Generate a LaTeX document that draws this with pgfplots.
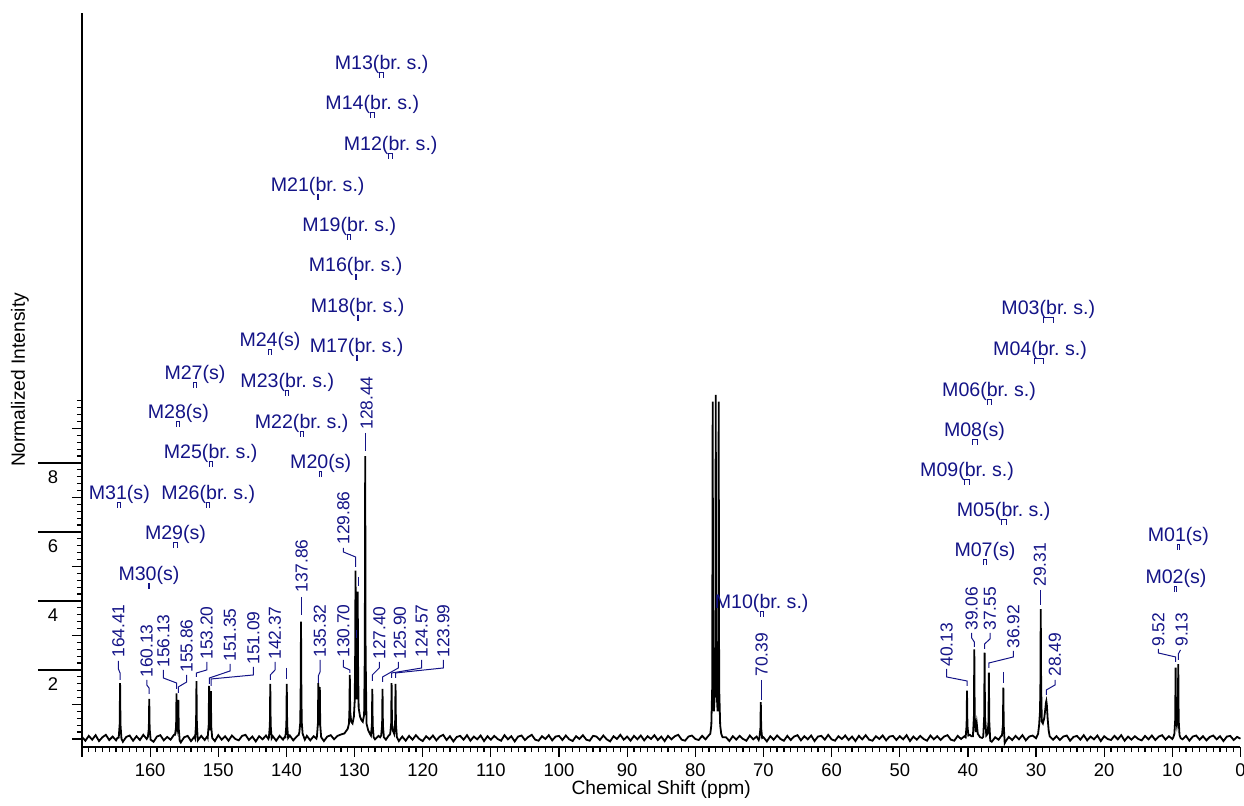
\documentclass[border=0pt]{standalone}
\usepackage{fontspec}
\setmainfont{Liberation Sans}
\usepackage{pgfplots}
\pgfplotsset{compat=1.18}
\definecolor{lblue}{RGB}{20,20,135}
\pgfplotsset{
  px/.style={x filter/.expression={(1240.5-x)/6.815}, y filter/.expression={(739-y)/34.5}},
  cn/.style={px, lblue, line width=0.5pt, no markers, forget plot},
}
\begin{document}
\begin{tikzpicture}[font=\fontsize{9.8pt}{11pt}\selectfont]
\useasboundingbox (-41pt,-29.5pt) rectangle (581pt,373.5pt);
\begin{axis}[
  at={(0,0)}, anchor=south west,
  width=579.25pt, height=367pt, scale only axis,
  xmin=0, xmax=170, x dir=reverse,
  ymin=-0.232, ymax=21.04,
  axis x line=bottom, axis y line=left,
  axis line style={-, line width=0.7pt},
  tick align=outside,
  major tick length=2.6pt, minor tick length=5pt,
  xtick={0,1,...,170}, xticklabels={},
  extra x ticks={0,10,...,170},
  extra x tick labels={0,10,20,30,40,50,60,70,80,90,100,110,120,130,140,150,160,{}},
  extra x tick style={major tick length=5pt},
  ytick={0,0.2,...,9.81}, yticklabels={},
  minor ytick={0,1,3,5,7,9},
  extra y ticks={2,4,6,8},
  extra y tick style={major tick length=22pt, yticklabel style={anchor=north, inner sep=0pt, xshift=7.5pt, yshift=-3.5pt}},
  tick style={black, line width=0.6pt},
  tick label style={font=\fontsize{9.2pt}{11pt}\selectfont},
  label style={font=\fontsize{9.6pt}{11pt}\selectfont},
  /pgf/number format/assume math mode=true,
  xlabel={Chemical Shift (ppm)}, ylabel={Normalized Intensity},
  xlabel style={at={(axis description cs:0.5,-0.0586)}, anchor=center},
  ylabel style={at={(axis description cs:-0.0535,0.5)}, anchor=center},
  clip=false,
]
\addplot[black, line width=0.9pt, no markers] coordinates {
(170,0.06) (169.5,-0.05) (169,0.09) (168.5,-0.02) (168,0.11) (167.5,-0.06) (167,0.05) (166.5,0.12) (166,-0.03) (165.5,0.07) (165,-0.04) (164.8,0.03)
(164.61,0.04) (164.47,0.42) (164.41,1.62) (164.35,0.42) (164.21,0.01)
(164,-0.08) (163.5,0.06) (163,0.10) (162.5,-0.05) (162,0.08) (161.5,-0.03) (161,0.12) (160.5,0.00)
(160.33,0.06) (160.19,0.30) (160.13,1.16) (160.07,0.30) (159.93,-0.02)
(159.5,-0.08) (159,0.07) (158.5,0.11) (158,-0.04) (157.5,0.06) (157,-0.02) (156.5,0.12)
(156.35,0.12) (156.19,0.35) (156.13,1.32) (156.07,0.45) (156.0,0.30) (155.92,0.40) (155.86,1.13) (155.80,0.30) (155.66,-0.05)
(155.5,-0.10) (155,0.05) (154.5,0.09) (154,-0.06) (153.5,0.07)
(153.40,0.02) (153.26,0.42) (153.20,1.68) (153.14,0.42) (153.0,-0.04)
(152.5,0.09) (152,-0.03) (151.6,0.08)
(151.55,0.05) (151.41,0.40) (151.35,1.54) (151.29,0.45) (151.22,0.25) (151.15,0.40) (151.09,1.39) (151.03,0.35) (150.89,0.03)
(150.5,-0.06) (150,0.11) (149.5,-0.02) (149,0.08) (148.5,-0.05) (148,0.10) (147.5,0.00) (147,-0.04) (146.5,0.09) (146,0.12) (145.5,-0.03) (145,0.07) (144.5,-0.07) (144,0.08) (143.5,-0.01) (143,0.10) (142.65,0.00)
(142.57,0.04) (142.43,0.40) (142.37,1.60) (142.31,0.40) (142.17,0.02)
(142,0.08) (141.5,-0.05) (141,0.09) (140.5,-0.02) (140.25,0.06)
(140.15,0.05) (140.01,0.40) (139.95,1.60) (139.89,0.40) (139.75,0.03)
(139.5,0.10) (139,-0.04) (138.5,0.07) (138.2,0.12)
(138.10,0.20) (137.98,0.45) (137.92,1.20) (137.86,3.40) (137.80,1.20) (137.74,0.45) (137.62,0.15)
(137.3,-0.02) (137,0.09) (136.5,-0.04) (136,0.08) (135.6,0.01)
(135.52,0.08) (135.38,0.45) (135.32,1.62) (135.26,0.50) (135.20,0.40) (135.16,0.50) (135.10,1.50) (135.04,0.40) (134.90,0.05)
(134.5,-0.06) (134,0.07) (133.5,0.11) (133,-0.01) (132.5,0.09) (132,0.13) (131.5,0.16) (131.2,0.24)
(131.0,0.30) (130.82,0.45) (130.76,0.80) (130.70,1.86) (130.64,0.80) (130.50,0.50) (130.30,0.45) (130.10,0.65) (129.98,1.10) (129.92,2.20) (129.86,4.88) (129.80,2.20) (129.70,1.15) (129.60,1.80) (129.54,4.27) (129.48,2.00) (129.40,0.90) (129.20,0.65) (129.0,0.55) (128.80,0.50) (128.60,0.70) (128.50,2.50) (128.44,8.20) (128.38,2.50) (128.25,0.45) (128.0,0.25) (127.75,0.15)
(127.60,0.10) (127.46,0.40) (127.40,1.45) (127.34,0.40) (127.20,0.05)
(127,-0.01) (126.5,0.09) (126.25,0.05)
(126.10,0.10) (125.96,0.40) (125.90,1.45) (125.84,0.40) (125.70,0.05)
(125.4,-0.02) (125,0.10) (124.85,0.12)
(124.77,0.15) (124.63,0.45) (124.57,1.62) (124.51,0.45) (124.40,0.25) (124.19,0.15) (124.05,0.45) (123.99,1.60) (123.93,0.45) (123.79,0.05)
(123.5,-0.06) (123,0.07) (122.5,-0.05) (122,0.09) (121.5,-0.02) (121,0.11) (120.5,0.00) (120,-0.06) (119.5,0.08) (119,-0.01) (118.5,0.10) (118,-0.04) (117.5,0.07) (117,0.12) (116.5,-0.03) (116,0.08) (115.5,-0.07) (115,0.06) (114.5,0.09) (114,-0.02) (113.5,0.11) (113,-0.05) (112.5,0.07) (112,-0.01) (111.5,0.10) (111,-0.06) (110.5,0.08) (110,-0.02) (109.5,0.09) (109,0.00) (108.5,-0.05) (108,0.11) (107.5,-0.01) (107,0.08) (106.5,-0.07) (106,0.07) (105.5,0.10) (105,-0.03) (104.5,0.06) (104,0.12) (103.5,-0.02) (103,-0.05) (102.5,0.08) (102,0.00) (101.5,0.11) (101,-0.04) (100.5,0.07) (100,0.09)
(99.5,-0.03) (99,0.10) (98.5,-0.01) (98,-0.06) (97.5,0.08) (97,0.00) (96.5,0.11) (96,-0.02) (95.5,-0.05) (95,0.09) (94.5,0.07) (94,-0.03) (93.5,0.10) (93,-0.01) (92.5,-0.07) (92,0.08) (91.5,0.00) (91,0.12) (90.5,-0.02) (90,0.07) (89.5,-0.05) (89,0.09) (88.5,-0.01) (88,0.10) (87.5,-0.04) (87,0.08) (86.5,0.00) (86,0.11) (85.5,-0.03) (85,0.07) (84.5,-0.06) (84,0.09) (83.5,-0.01) (83,0.08) (82.5,0.12) (82,-0.02) (81.5,-0.05) (81,0.07) (80.5,0.10) (80,0.00) (79.5,-0.03) (79,0.09) (78.5,-0.01) (78,0.11)
(77.8,0.15) (77.65,0.40) (77.52,1.5) (77.45,9.78) (77.38,1.5) (77.27,0.8) (77.07,1.6) (77.00,9.97) (76.93,1.6) (76.73,0.8) (76.62,1.5) (76.57,9.78) (76.50,1.5) (76.35,0.40) (76.2,0.15) (76.0,0.05)
(75.5,0.05) (75,-0.06) (74.5,0.08) (74,-0.02) (73.5,0.09) (73,0.00) (72.5,-0.05) (72,0.10) (71.5,-0.01) (71,0.07) (70.7,-0.03)
(70.59,0.04) (70.45,0.30) (70.39,1.07) (70.33,0.30) (70.19,0.03)
(70,0.05) (69.5,-0.07) (69,0.08) (68.5,-0.02) (68,0.10) (67.5,0.00) (67,-0.05) (66.5,0.09) (66,-0.03) (65.5,0.07) (65,0.11) (64.5,-0.04) (64,0.08) (63.5,-0.01) (63,0.10) (62.5,-0.06) (62,0.07) (61.5,0.09) (61,-0.02) (60.5,0.12) (60,-0.01) (59.5,-0.05) (59,0.08) (58.5,0.00) (58,0.10) (57.5,-0.03) (57,0.07) (56.5,-0.06) (56,0.09) (55.5,-0.01) (55,0.11) (54.5,-0.02) (54,-0.05) (53.5,0.08) (53,0.00) (52.5,0.10) (52,-0.04) (51.5,0.07) (51,0.09) (50.5,-0.03) (50,0.08) (49.5,-0.01) (49,0.11) (48.5,-0.06) (48,0.07) (47.5,-0.02) (47,0.09) (46.5,0.00) (46,-0.05) (45.5,0.10) (45,-0.01) (44.5,0.08) (44,-0.03) (43.5,0.07) (43,0.11) (42.5,-0.02) (42,-0.05) (41.5,0.09) (41,0.00) (40.5,0.08)
(40.33,0.05) (40.19,0.40) (40.13,1.40) (40.07,0.40) (39.93,0.10) (39.7,0.12) (39.50,0.08) (39.26,0.08) (39.12,0.65) (39.06,2.60) (39.00,0.65) (38.85,0.20) (38.70,0.45) (38.55,0.15) (38.2,0.05) (37.9,0.03)
(37.75,0.06) (37.61,0.65) (37.55,2.50) (37.49,0.65) (37.30,0.10) (37.10,0.15) (36.98,0.50) (36.92,1.92) (36.86,0.50) (36.72,-0.05)
(36.5,-0.08) (36,0.05) (35.5,-0.02) (35.1,0.09)
(35.00,0.10) (34.86,0.40) (34.80,1.49) (34.74,0.40) (34.60,-0.12) (34.4,-0.05)
(34,0.06) (33.5,-0.03) (33,0.09) (32.5,-0.01) (32,0.11) (31.5,-0.04) (31,0.07) (30.5,0.10) (30,0.02) (29.7,0.15)
(29.55,0.40) (29.42,0.80) (29.36,1.6) (29.31,3.76) (29.25,1.5) (29.15,0.5) (29.0,0.45) (28.8,0.6) (28.65,0.85) (28.55,1.05) (28.49,1.10) (28.42,1.0) (28.3,0.6) (28.15,0.25) (28.0,0.08)
(27.5,-0.02) (27,0.08) (26.5,-0.03) (26,0.07) (25.5,0.10) (25,-0.05) (24.5,0.06) (24,0.09) (23.5,-0.02) (23,0.11) (22.5,-0.04) (22,0.07) (21.5,-0.01) (21,0.10) (20.5,-0.06) (20,0.08) (19.5,0.00) (19,-0.03) (18.5,0.09) (18,-0.01) (17.5,0.11) (17,-0.05) (16.5,0.07) (16,-0.02) (15.5,0.08) (15,0.00) (14.5,-0.04) (14,0.09) (13.5,-0.01) (13,0.10) (12.5,-0.03) (12,0.07) (11.5,0.11) (11,-0.02) (10.5,0.08) (10,0.00)
(9.85,0.05) (9.70,0.15) (9.58,0.55) (9.52,2.07) (9.46,0.6) (9.33,0.4) (9.20,0.6) (9.13,2.17) (9.07,0.55) (8.95,0.12) (8.8,0.03)
(8.5,-0.01) (8,0.09) (7.5,-0.05) (7,0.07) (6.5,0.10) (6,-0.02) (5.5,0.08) (5,-0.04) (4.5,0.06) (4,0.10) (3.5,-0.01) (3,0.08) (2.5,-0.06) (2,0.07) (1.5,0.09) (1,-0.03) (0.5,0.06) (0,0.01)
};
% connectors (pixel coordinates through px filter)
\addplot[cn] coordinates {(118.3,661) (118.3,669) (120,673) (120,680)};
\addplot[cn] coordinates {(146.7,680) (146.7,685) (149,688) (149,694)};
\addplot[cn] coordinates {(163.3,670) (163.3,678) (176.5,683) (176.5,689)};
\addplot[cn] coordinates {(186.7,675) (186.7,682) (178.3,687) (178.3,693)};
\addplot[cn] coordinates {(206.7,662) (206.7,670) (196.4,673) (196.4,677)};
\addplot[cn] coordinates {(230,664) (230,671) (209.3,678) (209.3,684)};
\addplot[cn] coordinates {(253.3,667) (253.3,675) (211,679) (211,686)};
\addplot[cn] coordinates {(275,662) (275,670) (270.3,675) (270.3,680)};
\addplot[cn] coordinates {(286.7,668) (286.7,679)};
\addplot[cn] coordinates {(301.7,597) (301.7,615)};
\addplot[cn] coordinates {(320,660) (320,672) (318.3,676) (318.3,683)};
\addplot[cn] coordinates {(343.3,660) (343.3,667) (349.8,670) (349.8,673)};
\addplot[cn] coordinates {(343.3,548) (343.3,552) (355.5,557) (355.5,567)};
\addplot[cn] coordinates {(358,577) (358,586)};
\addplot[cn] coordinates {(356.7,630) (356.7,638)};
\addplot[cn] coordinates {(365.5,433) (365.5,451)};
\addplot[cn] coordinates {(379.3,662) (379.3,668) (372.3,675) (372.3,681)};
\addplot[cn] coordinates {(398.3,662) (398.3,668) (382.5,677) (382.5,682)};
\addplot[cn] coordinates {(421.7,660) (421.7,668) (391.6,673) (391.6,678)};
\addplot[cn] coordinates {(443.3,660) (443.3,668) (395.5,673) (395.5,678)};
\addplot[cn] coordinates {(761.7,680) (761.7,700)};
\addplot[cn] coordinates {(946.7,669) (946.7,677) (967,681) (967,686)};
\addplot[cn] coordinates {(971.7,633) (971.7,638) (974.3,642) (974.3,647)};
\addplot[cn] coordinates {(990,633) (990,639) (984.6,644) (984.6,649)};
\addplot[cn] coordinates {(1013.3,651) (1013.3,657) (988.9,663) (988.9,668)};
\addplot[cn] coordinates {(1003.3,672) (1003.3,683)};
\addplot[cn] coordinates {(1040.8,590) (1040.8,605)};
\addplot[cn] coordinates {(1055,680) (1055,685) (1046.3,690) (1046.3,695)};
\addplot[cn] coordinates {(1158.3,649) (1158.3,653) (1175.6,657) (1175.6,662)};
\addplot[cn] coordinates {(1180.5,650) (1178.3,654) (1178.3,660)};
% multiplet range brackets
\addplot[cn] coordinates {(379.7,78) (379.7,73) (383.7,73) (383.7,78)};
\addplot[cn] coordinates {(370.3,118) (370.3,113) (374.3,113) (374.3,118)};
\addplot[cn] coordinates {(388.7,159) (388.7,154) (392.7,154) (392.7,159)};
\addplot[cn] coordinates {(317,200) (317,195) (318.5,195) (318.5,200)};
\addplot[cn] coordinates {(347.8,240) (347.8,235) (350.8,235) (350.8,240)};
\addplot[cn] coordinates {(355,280) (355,275) (356.5,275) (356.5,280)};
\addplot[cn] coordinates {(357,321) (357,316) (358.5,316) (358.5,321)};
\addplot[cn] coordinates {(356,361) (356,356) (357.5,356) (357.5,361)};
\addplot[cn] coordinates {(268.5,355) (268.5,350) (271.5,350) (271.5,355)};
\addplot[cn] coordinates {(193.5,388) (193.5,383) (196.5,383) (196.5,388)};
\addplot[cn] coordinates {(285.8,396) (285.8,391) (288.8,391) (288.8,396)};
\addplot[cn] coordinates {(176.8,427) (176.8,422) (179.8,422) (179.8,427)};
\addplot[cn] coordinates {(300.2,437) (300.2,432) (303.2,432) (303.2,437)};
\addplot[cn] coordinates {(209.2,467) (209.2,462) (212.2,462) (212.2,467)};
\addplot[cn] coordinates {(319.7,477) (319.7,472) (321.7,472) (321.7,477)};
\addplot[cn] coordinates {(117.8,508) (117.8,503) (120.8,503) (120.8,508)};
\addplot[cn] coordinates {(206.8,508) (206.8,503) (209.8,503) (209.8,508)};
\addplot[cn] coordinates {(174,548) (174,543) (177,543) (177,548)};
\addplot[cn] coordinates {(148,589) (148,584) (150,584) (150,589)};
\addplot[cn] coordinates {(760.2,617) (760.2,612) (763.2,612) (763.2,617)};
\addplot[cn] coordinates {(1043.3,323) (1043.3,318) (1053.3,318) (1053.3,323)};
\addplot[cn] coordinates {(1035,364) (1035,359) (1043.3,359) (1043.3,364)};
\addplot[cn] coordinates {(987,405) (987,400) (991.5,400) (991.5,405)};
\addplot[cn] coordinates {(972,445) (972,440) (977,440) (977,445)};
\addplot[cn] coordinates {(964.5,485) (964.5,480) (969.5,480) (969.5,485)};
\addplot[cn] coordinates {(1001,525) (1001,520) (1006.5,520) (1006.5,525)};
\addplot[cn] coordinates {(983.5,565) (983.5,560) (986.5,560) (986.5,565)};
\addplot[cn] coordinates {(1177.3,550) (1177.3,545) (1179.3,545) (1179.3,550)};
\addplot[cn] coordinates {(1175,592) (1175,587) (1177,587) (1177,592)};
\end{axis}
\begin{scope}[x=0.5pt, y=-0.5pt, shift={(-41pt,373.5pt)}, every node/.style={text=lblue, inner sep=0pt}, pk/.style={rotate=90, anchor=west, font=\fontsize{8.7pt}{10pt}\selectfont}]
% multiplet labels
\node[anchor=base] at (381.7,70) {M13(br.\ s.)};
\node[anchor=base] at (372.3,110) {M14(br.\ s.)};
\node[anchor=base] at (390.7,151) {M12(br.\ s.)};
\node[anchor=base] at (317.7,192) {M21(br.\ s.)};
\node[anchor=base] at (349.3,232) {M19(br.\ s.)};
\node[anchor=base] at (355.7,272) {M16(br.\ s.)};
\node[anchor=base] at (357.7,313) {M18(br.\ s.)};
\node[anchor=base] at (356.7,353) {M17(br.\ s.)};
\node[anchor=base] at (270,347) {M24(s)};
\node[anchor=base] at (195,380) {M27(s)};
\node[anchor=base] at (287.3,388) {M23(br.\ s.)};
\node[anchor=base] at (178.3,419) {M28(s)};
\node[anchor=base] at (301.7,429) {M22(br.\ s.)};
\node[anchor=base] at (210.7,459) {M25(br.\ s.)};
\node[anchor=base] at (320.7,469) {M20(s)};
\node[anchor=base] at (119.3,500) {M31(s)};
\node[anchor=base] at (208.3,500) {M26(br.\ s.)};
\node[anchor=base] at (175.5,540) {M29(s)};
\node[anchor=base] at (149,581) {M30(s)};
\node[anchor=base] at (761.7,609) {M10(br.\ s.)};
\node[anchor=base] at (1048.3,315) {M03(br.\ s.)};
\node[anchor=base] at (1040,356) {M04(br.\ s.)};
\node[anchor=base] at (989,397) {M06(br.\ s.)};
\node[anchor=base] at (974.5,437) {M08(s)};
\node[anchor=base] at (967,477) {M09(br.\ s.)};
\node[anchor=base] at (1003.7,517) {M05(br.\ s.)};
\node[anchor=base] at (985,557) {M07(s)};
\node[anchor=base] at (1178.3,542) {M01(s)};
\node[anchor=base] at (1176,584) {M02(s)};
% peak labels
\node[pk] at (118.3,658) {164.41};
\node[pk] at (146.7,678) {160.13};
\node[pk] at (163.3,668) {156.13};
\node[pk] at (186.7,673) {155.86};
\node[pk] at (206.7,660) {153.20};
\node[pk] at (230,662) {151.35};
\node[pk] at (253.3,665) {151.09};
\node[pk] at (275,660) {142.37};
\node[pk] at (301.7,593) {137.86};
\node[pk] at (320,658) {135.32};
\node[pk] at (343.3,658) {130.70};
\node[pk] at (343.3,545) {129.86};
\node[pk] at (366.7,430) {128.44};
\node[pk] at (379.3,660) {127.40};
\node[pk] at (400,660) {125.90};
\node[pk] at (421.7,658) {124.57};
\node[pk] at (443.3,658) {123.99};
\node[pk] at (761.7,677) {70.39};
\node[pk] at (946.7,667) {40.13};
\node[pk] at (971.7,631) {39.06};
\node[pk] at (990,631) {37.55};
\node[pk] at (1013.3,649) {36.92};
\node[pk] at (1040,587) {29.31};
\node[pk] at (1055,677) {28.49};
\node[pk] at (1158.3,647) {9.52};
\node[pk] at (1181.7,647) {9.13};
\end{scope}
\end{tikzpicture}
\end{document}
